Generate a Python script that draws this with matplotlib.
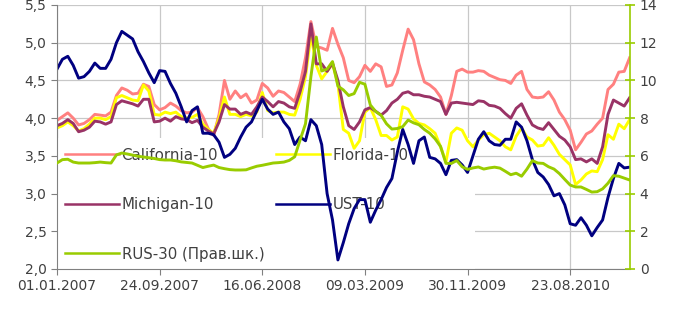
import matplotlib
matplotlib.use("Agg")
from matplotlib import pyplot as plt
from matplotlib.patches import Rectangle
import matplotlib.dates as mdates
from matplotlib.ticker import FuncFormatter
import pandas as pd

# sampling dates (every two weeks)
dates = pd.date_range("2007-01-01", periods=107, freq="14D")

california = [3.97, 4.02, 4.07, 4.00, 3.91, 3.93, 3.98, 4.05, 4.04, 4.03,
              4.08, 4.30, 4.40, 4.37, 4.32, 4.33, 4.45, 4.42, 4.18, 4.11,
              4.14, 4.20, 4.16, 4.10, 4.07, 4.08, 4.14, 4.02, 3.86, 3.77,
              4.05, 4.50, 4.25, 4.36, 4.27, 4.32, 4.20, 4.24, 4.46, 4.40,
              4.29, 4.36, 4.34, 4.28, 4.22, 4.45, 4.80, 5.28, 4.95, 4.93,
              4.90, 5.19, 4.98, 4.80, 4.50, 4.47, 4.55, 4.70, 4.62, 4.72,
              4.68, 4.42, 4.44, 4.60, 4.90, 5.18, 5.04, 4.72, 4.48, 4.44,
              4.38, 4.28, 4.05, 4.30, 4.62, 4.65, 4.61, 4.61, 4.63, 4.62,
              4.57, 4.54, 4.51, 4.50, 4.46, 4.57, 4.62, 4.38, 4.28, 4.27,
              4.28, 4.35, 4.24, 4.08, 3.98, 3.84, 3.58, 3.68, 3.79, 3.83,
              3.92, 4.00, 4.38, 4.45, 4.61, 4.62, 4.80]

florida = [3.87, 3.90, 3.95, 3.90, 3.83, 3.86, 3.92, 4.00, 4.00, 3.98,
           4.02, 4.27, 4.30, 4.27, 4.24, 4.23, 4.44, 4.36, 4.05, 4.04,
           4.08, 4.06, 4.08, 4.02, 4.00, 4.01, 4.05, 3.92, 3.85, 3.80,
           4.00, 4.28, 4.05, 4.05, 4.02, 4.05, 4.03, 4.08, 4.34, 4.10,
           4.07, 4.08, 4.08, 4.05, 4.04, 4.25, 4.55, 5.10, 4.70, 4.52,
           4.62, 4.72, 4.45, 3.85, 3.80, 3.60, 3.70, 4.08, 4.14, 3.98,
           3.77, 3.77, 3.71, 3.75, 4.15, 4.12, 3.99, 3.93, 3.91, 3.86,
           3.80, 3.62, 3.42, 3.80, 3.87, 3.84, 3.70, 3.62, 3.71, 3.78,
           3.80, 3.75, 3.70, 3.62, 3.58, 3.76, 3.87, 3.75, 3.71, 3.63,
           3.64, 3.74, 3.64, 3.52, 3.45, 3.38, 3.12, 3.18, 3.26, 3.30,
           3.29, 3.45, 3.78, 3.72, 3.92, 3.86, 3.98]

michigan = [3.90, 3.93, 3.98, 3.93, 3.82, 3.84, 3.88, 3.96, 3.95, 3.92,
            3.95, 4.18, 4.23, 4.21, 4.19, 4.16, 4.25, 4.25, 3.95, 3.96,
            4.00, 3.96, 4.02, 3.99, 3.98, 3.94, 3.97, 3.88, 3.83, 3.79,
            3.95, 4.18, 4.12, 4.12, 4.05, 4.08, 4.05, 4.15, 4.28, 4.22,
            4.15, 4.22, 4.20, 4.15, 4.13, 4.35, 4.62, 5.25, 4.72, 4.72,
            4.62, 4.73, 4.50, 4.15, 3.90, 3.85, 3.95, 4.11, 4.14, 4.09,
            4.04, 4.10, 4.20, 4.25, 4.33, 4.35, 4.31, 4.31, 4.29, 4.28,
            4.25, 4.22, 4.05, 4.20, 4.21, 4.20, 4.19, 4.18, 4.23, 4.22,
            4.17, 4.16, 4.13, 4.06, 4.00, 4.13, 4.19, 4.04, 3.91, 3.87,
            3.85, 3.94, 3.85, 3.76, 3.71, 3.62, 3.45, 3.46, 3.42, 3.46,
            3.40, 3.62, 4.05, 4.24, 4.20, 4.16, 4.27]

ust = [4.65, 4.78, 4.82, 4.70, 4.53, 4.55, 4.62, 4.73, 4.66, 4.66,
       4.78, 5.00, 5.15, 5.10, 5.05, 4.88, 4.75, 4.60, 4.47, 4.63,
       4.62, 4.46, 4.33, 4.15, 3.95, 4.10, 4.15, 3.80, 3.80, 3.78,
       3.68, 3.48, 3.52, 3.60, 3.75, 3.88, 3.95, 4.10, 4.25, 4.12,
       4.05, 4.08, 3.95, 3.86, 3.65, 3.75, 3.70, 3.98, 3.90, 3.65,
       3.00, 2.65, 2.12, 2.35, 2.60, 2.80, 2.92, 2.92, 2.62, 2.78,
       2.92, 3.08, 3.20, 3.55, 3.85, 3.65, 3.40, 3.70, 3.75, 3.48,
       3.46, 3.40, 3.25, 3.44, 3.45, 3.38, 3.28, 3.50, 3.72, 3.82,
       3.70, 3.65, 3.64, 3.72, 3.72, 3.95, 3.88, 3.70, 3.45, 3.28,
       3.22, 3.12, 2.97, 3.00, 2.85, 2.60, 2.58, 2.68, 2.58, 2.44,
       2.55, 2.65, 2.95, 3.20, 3.40, 3.34, 3.35]

rus30 = [5.62, 5.80, 5.82, 5.67, 5.62, 5.62, 5.62, 5.64, 5.67, 5.64,
         5.62, 6.05, 6.15, 6.10, 6.04, 5.98, 5.94, 5.90, 5.86, 5.80,
         5.78, 5.78, 5.74, 5.68, 5.65, 5.62, 5.50, 5.38, 5.45, 5.51,
         5.38, 5.32, 5.27, 5.25, 5.25, 5.26, 5.36, 5.45, 5.50, 5.56,
         5.62, 5.64, 5.67, 5.76, 5.95, 6.84, 7.70, 10.2, 12.3, 10.5,
         10.6, 11.0, 9.7, 9.5, 9.2, 9.3, 9.9, 9.8, 8.7, 8.35,
         8.15, 7.7, 7.42, 7.45, 7.55, 7.9, 7.75, 7.65, 7.40, 7.20,
         6.90, 6.50, 5.60, 5.60, 5.75, 5.42, 5.28, 5.36, 5.41, 5.30,
         5.36, 5.40, 5.35, 5.18, 5.00, 5.08, 4.92, 5.30, 5.75, 5.62,
         5.60, 5.42, 5.30, 5.06, 4.75, 4.45, 4.35, 4.35, 4.22, 4.08,
         4.10, 4.25, 4.55, 4.95, 4.92, 4.82, 4.72]

tick_dates = ["2007-01-01", "2007-09-24", "2008-06-16",
              "2009-03-09", "2009-11-30", "2010-08-23"]

txt_col = "#404040"
grid_col = "#c8c8c8"
green = "#99cc00"

fig = plt.figure(figsize=(6.74, 3.14), dpi=100)
ax = fig.add_axes([57 / 674, 45 / 314, 573 / 674, 264 / 314])
ax2 = ax.twinx()

lw = 2.1
l_cal, = ax.plot(dates, california, color="#ff8080", lw=lw, label="California-10")
l_flo, = ax.plot(dates, florida, color="#ffff00", lw=lw, label="Florida-10")
l_mic, = ax.plot(dates, michigan, color="#993366", lw=lw, label="Michigan-10")
l_ust, = ax.plot(dates, ust, color="#000080", lw=lw, label="UST-10")
l_rus, = ax2.plot(dates, rus30, color=green, lw=lw, label="RUS-30 (Прав.шк.)")

ax.set_xlim(pd.Timestamp("2007-01-01"), pd.Timestamp("2011-01-25"))
ax.set_ylim(2.0, 5.5)
ax.set_yticks([2.0, 2.5, 3.0, 3.5, 4.0, 4.5, 5.0, 5.5])
ax.yaxis.set_major_formatter(FuncFormatter(lambda v, p: f"{v:.1f}".replace(".", ",")))
ax2.set_ylim(0, 14)
ax2.set_yticks(range(0, 15, 2))

ax.set_xticks(pd.to_datetime(tick_dates))
ax.xaxis.set_major_formatter(mdates.DateFormatter("%d.%m.%Y"))

ax.set_axisbelow(True)
ax.grid(True, color=grid_col, lw=0.9)

for s in ["top", "right"]:
    ax.spines[s].set_visible(False)
ax.spines["left"].set_color("#808080")
ax.spines["bottom"].set_color("#808080")
for s in ["top", "left", "bottom"]:
    ax2.spines[s].set_visible(False)
ax2.spines["right"].set_color(green)
ax2.spines["right"].set_linewidth(1.2)

ax.tick_params(axis="both", labelsize=10, colors=txt_col, length=4, color="#808080")
ax2.tick_params(axis="y", labelsize=10, labelcolor=txt_col, color=green,
                direction="inout", length=7, width=1.2)

# white legend area hiding the grid, lines stay on top
ax.add_patch(Rectangle((0, 0), 0.73, 0.497, transform=ax.transAxes,
                       facecolor="white", edgecolor="none", zorder=1))

handles = [l_cal, l_mic, l_rus, l_flo, l_ust]
leg = ax.legend(handles=handles, labels=[h.get_label() for h in handles],
                ncol=2, loc="lower left", bbox_to_anchor=(0.0, 0.0),
                fontsize=10.8, frameon=False,
                borderpad=0.5, labelspacing=2.3, handlelength=3.6,
                handletextpad=0.2, borderaxespad=0.0, columnspacing=0.75)
for t in leg.get_texts():
    t.set_color(txt_col)
for h in leg.legend_handles:
    h.set_linewidth(1.8)
leg.set_zorder(1.5)

fig.savefig("out.png", dpi=100)
